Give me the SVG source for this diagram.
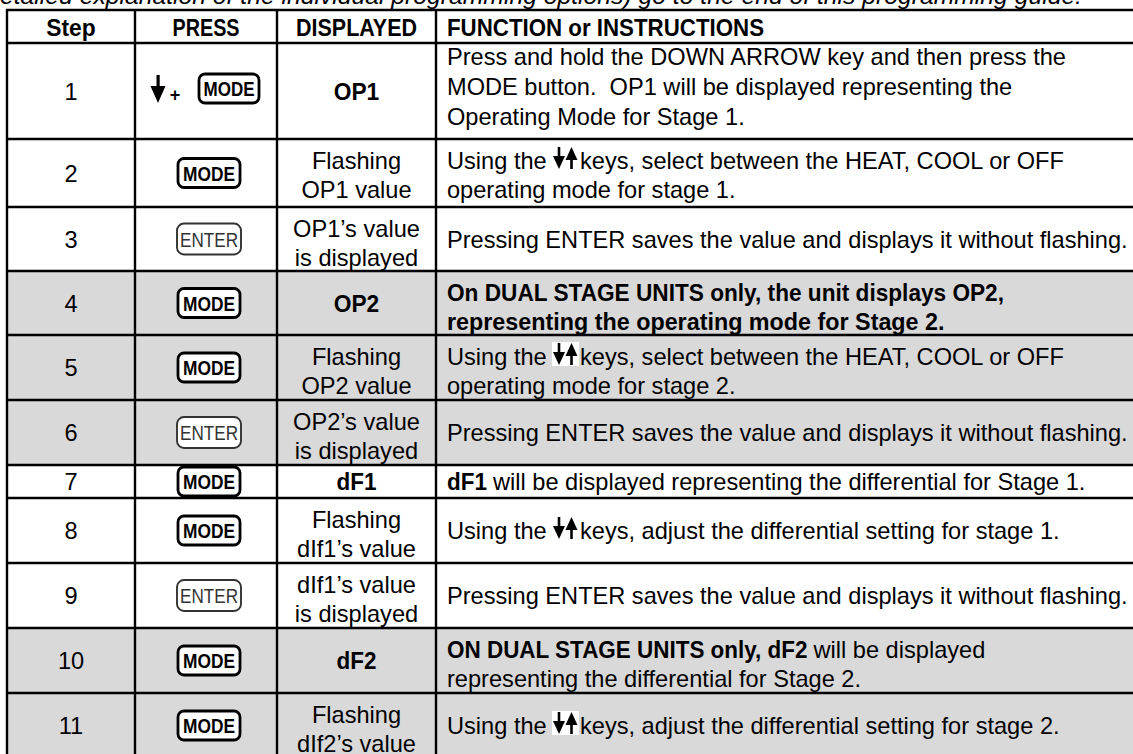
<svg xmlns="http://www.w3.org/2000/svg" width="1133" height="754" viewBox="0 0 1133 754">
<defs>
<style>
text{font-family:"Liberation Sans",Arial,sans-serif;font-size:23.6px;fill:#000}
.b{font-weight:bold}
.c{text-anchor:middle}
.i{font-style:italic}
.pre{white-space:pre}
.shade{fill:#d9d9d9}
.grid line{stroke:#000;stroke-width:2.4}
.mode rect{fill:#fff;stroke:#000;stroke-width:2.8}
.mode text{font-size:21px;font-weight:bold;text-anchor:middle}
.enter rect{fill:#fff;stroke:#333;stroke-width:1.9}
.enter text{font-size:21px;text-anchor:middle;fill:#333}
.wbg{fill:#fff}
</style>
<g id="ud">
<rect x="4.7" y="0" width="2.6" height="11"/>
<polygon points="0,9 12,9 6,22"/>
<polygon points="12.5,13 24.5,13 18.5,0"/>
<rect x="17.2" y="10" width="2.6" height="12"/>
</g>
</defs>
<rect width="1133" height="754" fill="#fff"/>
<text id="title" class="i" x="0" y="4" textLength="1082" lengthAdjust="spacingAndGlyphs">etailed explanation of the individual programming options) go to the end of this programming guide.</text>

<g id="shading">
<rect class="shade" x="7" y="271" width="1126" height="194"/>
<rect class="shade" x="7" y="628" width="1126" height="126"/>
</g>

<g id="header">
<text class="b c" x="71" y="35.5" textLength="49.4" lengthAdjust="spacingAndGlyphs">Step</text>
<text class="b c" x="206" y="35.5" textLength="67" lengthAdjust="spacingAndGlyphs">PRESS</text>
<text class="b c" x="356.5" y="35.5" textLength="121" lengthAdjust="spacingAndGlyphs">DISPLAYED</text>
<text class="b" x="447" y="35.5" textLength="317" lengthAdjust="spacingAndGlyphs">FUNCTION or INSTRUCTIONS</text>
</g>

<g id="row1">
<text class="c" x="71" y="100">1</text>
<rect x="156.5" y="75" width="3.2" height="14"/>
<polygon points="150.5,86 165.5,86 158,103"/>
<text class="b c" x="175" y="101" style="font-size:18px">+</text>
<g class="mode"><rect x="199" y="74" width="60" height="29" rx="6"/><text x="229" y="96" textLength="51" lengthAdjust="spacingAndGlyphs">MODE</text></g>
<text class="b c" x="356.5" y="100" textLength="45.5" lengthAdjust="spacingAndGlyphs">OP1</text>
<text x="447" y="65">Press and hold the DOWN ARROW key and then press the</text>
<text class="pre" x="447" y="95">MODE button.  OP1 will be displayed representing the</text>
<text x="447" y="125">Operating Mode for Stage 1.</text>
</g>

<g id="row2">
<text class="c" x="71" y="181.5">2</text>
<g class="mode"><rect x="178" y="158.5" width="62" height="29" rx="6"/><text x="209" y="180.5" textLength="52" lengthAdjust="spacingAndGlyphs">MODE</text></g>
<text class="c" x="356.5" y="169">Flashing</text>
<text class="c" x="356.5" y="198">OP1 value</text>
<text x="447" y="169">Using the</text>
<use href="#ud" x="553" y="147"/>
<text x="580" y="169">keys, select between the HEAT, COOL or OFF</text>
<text x="447" y="198">operating mode for stage 1.</text>
</g>

<g id="row3">
<text class="c" x="71" y="247.5">3</text>
<g class="enter"><rect x="177" y="223.5" width="64" height="31" rx="7"/><text x="209" y="246.5" textLength="58" lengthAdjust="spacingAndGlyphs">ENTER</text></g>
<text class="c" x="356.5" y="237">OP1’s value</text>
<text class="c" x="356.5" y="266">is displayed</text>
<text x="447" y="247.5">Pressing ENTER saves the value and displays it without flashing.</text>
</g>

<g id="row4">
<text class="c" x="71" y="311.5">4</text>
<g class="mode"><rect x="178" y="288.5" width="62" height="29" rx="6"/><text x="209" y="310.5" textLength="52" lengthAdjust="spacingAndGlyphs">MODE</text></g>
<text class="b c" x="356.5" y="311.5" textLength="45.5" lengthAdjust="spacingAndGlyphs">OP2</text>
<text class="b" x="447" y="301" textLength="557" lengthAdjust="spacingAndGlyphs">On DUAL STAGE UNITS only, the unit displays OP2,</text>
<text class="b" x="447" y="330" textLength="497.5" lengthAdjust="spacingAndGlyphs">representing the operating mode for Stage 2.</text>
</g>

<g id="row5">
<text class="c" x="71" y="376">5</text>
<g class="mode"><rect x="178" y="353" width="62" height="29" rx="6"/><text x="209" y="375" textLength="52" lengthAdjust="spacingAndGlyphs">MODE</text></g>
<text class="c" x="356.5" y="365">Flashing</text>
<text class="c" x="356.5" y="394">OP2 value</text>
<text x="447" y="365">Using the</text>
<rect class="wbg" x="552" y="342" width="27" height="24"/>
<use href="#ud" x="553" y="343"/>
<text x="580" y="365">keys, select between the HEAT, COOL or OFF</text>
<text x="447" y="394">operating mode for stage 2.</text>
</g>

<g id="row6">
<text class="c" x="71" y="441">6</text>
<g class="enter"><rect x="177" y="417" width="64" height="31" rx="7"/><text x="209" y="440" textLength="58" lengthAdjust="spacingAndGlyphs">ENTER</text></g>
<text class="c" x="356.5" y="430">OP2’s value</text>
<text class="c" x="356.5" y="459">is displayed</text>
<text x="447" y="441">Pressing ENTER saves the value and displays it without flashing.</text>
</g>

<g id="row7">
<text class="c" x="71" y="490">7</text>
<g class="mode"><rect x="178" y="467" width="62" height="29" rx="6"/><text x="209" y="489" textLength="52" lengthAdjust="spacingAndGlyphs">MODE</text></g>
<text class="b c" x="356.5" y="490" textLength="40" lengthAdjust="spacingAndGlyphs">dF1</text>
<text class="b" x="447" y="490" textLength="40" lengthAdjust="spacingAndGlyphs">dF1</text>
<text x="493" y="490">will be displayed representing the differential for Stage 1.</text>
</g>

<g id="row8">
<text class="c" x="71" y="539">8</text>
<g class="mode"><rect x="178" y="516" width="62" height="29" rx="6"/><text x="209" y="538" textLength="52" lengthAdjust="spacingAndGlyphs">MODE</text></g>
<text class="c" x="356.5" y="528">Flashing</text>
<text class="c" x="356.5" y="557">dIf1’s value</text>
<text x="447" y="539">Using the</text>
<use href="#ud" x="553" y="517"/>
<text x="580" y="539">keys, adjust the differential setting for stage 1.</text>
</g>

<g id="row9">
<text class="c" x="71" y="604">9</text>
<g class="enter"><rect x="177" y="580" width="64" height="31" rx="7"/><text x="209" y="603" textLength="58" lengthAdjust="spacingAndGlyphs">ENTER</text></g>
<text class="c" x="356.5" y="593">dIf1’s value</text>
<text class="c" x="356.5" y="622">is displayed</text>
<text x="447" y="604">Pressing ENTER saves the value and displays it without flashing.</text>
</g>

<g id="row10">
<text class="c" x="71" y="669">10</text>
<g class="mode"><rect x="178" y="646" width="62" height="29" rx="6"/><text x="209" y="668" textLength="52" lengthAdjust="spacingAndGlyphs">MODE</text></g>
<text class="b c" x="356.5" y="669" textLength="40" lengthAdjust="spacingAndGlyphs">dF2</text>
<text class="b" x="447" y="658" textLength="360.5" lengthAdjust="spacingAndGlyphs">ON DUAL STAGE UNITS only, dF2</text>
<text x="813.5" y="658">will be displayed</text>
<text x="447" y="687">representing the differential for Stage 2.</text>
</g>

<g id="row11">
<text class="c" x="71" y="734">11</text>
<g class="mode"><rect x="178" y="711" width="62" height="29" rx="6"/><text x="209" y="733" textLength="52" lengthAdjust="spacingAndGlyphs">MODE</text></g>
<text class="c" x="356.5" y="723">Flashing</text>
<text class="c" x="356.5" y="752">dIf2’s value</text>
<text x="447" y="734">Using the</text>
<rect class="wbg" x="552" y="711" width="27" height="24"/>
<use href="#ud" x="553" y="712"/>
<text x="580" y="734">keys, adjust the differential setting for stage 2.</text>
</g>

<g id="grid" class="grid">
<line x1="6" y1="10" x2="1133" y2="10"/>
<line x1="6" y1="43" x2="1133" y2="43"/>
<line x1="6" y1="139" x2="1133" y2="139"/>
<line x1="6" y1="207" x2="1133" y2="207"/>
<line x1="6" y1="271" x2="1133" y2="271"/>
<line x1="6" y1="335" x2="1133" y2="335"/>
<line x1="6" y1="400" x2="1133" y2="400"/>
<line x1="6" y1="465" x2="1133" y2="465"/>
<line x1="6" y1="498" x2="1133" y2="498"/>
<line x1="6" y1="563" x2="1133" y2="563"/>
<line x1="6" y1="628" x2="1133" y2="628"/>
<line x1="6" y1="693" x2="1133" y2="693"/>
<line x1="7" y1="9" x2="7" y2="754"/>
<line x1="135" y1="9" x2="135" y2="754"/>
<line x1="277" y1="9" x2="277" y2="754"/>
<line x1="436" y1="9" x2="436" y2="754"/>
</g>
</svg>
